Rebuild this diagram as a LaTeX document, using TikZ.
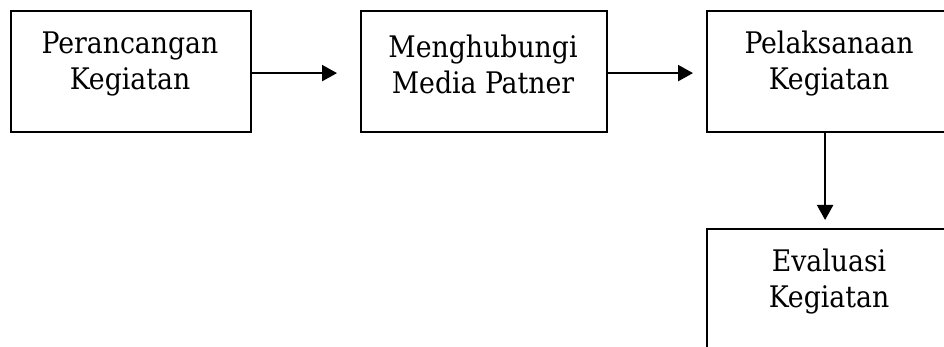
\documentclass[tikz,border=0pt]{standalone}
\usepackage{fontspec}
\setmainfont{DejaVu Serif Condensed}
\usetikzlibrary{arrows.meta}
\begin{document}
\begin{tikzpicture}[x=1pt,y=-1pt,
  box/.style={draw=black, line width=2.2pt, rectangle, minimum width=#1, minimum height=121pt, inner sep=0pt, anchor=north west},
  box/.default=246pt,
  lbl/.style={align=center, inner sep=0pt, font=\fontsize{29.7pt}{36pt}\selectfont},
  conn/.style={line width=2.2pt, -{Triangle[length=15pt,width=16pt]}}]
\path[use as bounding box, clip] (0,0) rectangle (944,347);
\fill[white] (0,0) rectangle (944,347);
\node[box=240pt] (b1) at (10,10) {};
\node[box] (b2) at (360,10) {};
\node[box] (b3) at (706,10) {};
\node[box] (b4) at (706,228) {};
\node[lbl] (t1) at (130,64) {Perancangan\\Kegiatan};
\node[lbl] (t2) at (483,64) {Menghubungi\\Media Patner};
\node[lbl] (t3) at (829,64) {Pelaksanaan\\Kegiatan};
\node[lbl] (t4) at (829,282) {Evaluasi\\Kegiatan};
\draw[conn, shorten >=23pt] ([yshift=-1.5pt]b1.east) -- ([yshift=-1.5pt]b2.west);
\draw[conn, shorten >=13pt] ([yshift=-1.5pt]b2.east) -- ([yshift=-1.5pt]b3.west);
\draw[conn, shorten >=8pt] ([xshift=-5pt]b3.south) -- ([xshift=-5pt]b4.north);
\end{tikzpicture}
\end{document}
